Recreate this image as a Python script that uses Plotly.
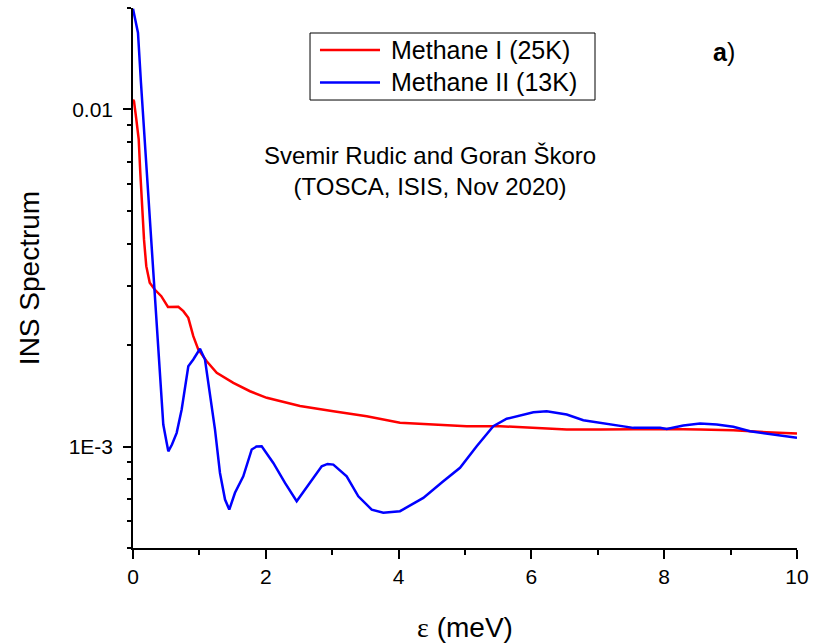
import plotly.graph_objects as go

# Methane I (25K) spectrum
energy_I = [0.0, 0.015, 0.050, 0.086, 0.110, 0.136, 0.166, 0.200, 0.252, 0.327, 0.426,
            0.527, 0.682, 0.758, 0.833, 0.908, 0.983, 1.110, 1.261, 1.511, 1.762, 2.014,
            2.515, 3.017, 3.520, 4.021, 4.523, 5.026, 5.527, 6.029, 6.532, 7.033, 7.535,
            8.038, 8.539, 9.041, 9.544, 10.0]
intensity_I = [0.01070, 0.01058, 0.00934, 0.00815, 0.00649, 0.00517, 0.00411, 0.003428,
               0.003061, 0.002923, 0.002793, 0.002595, 0.002598, 0.002521, 0.002409,
               0.002125, 0.001940, 0.001791, 0.001655, 0.001545, 0.001459, 0.001395,
               0.001319, 0.001273, 0.001230, 0.001176, 0.001162, 0.001149, 0.001149,
               0.001136, 0.001123, 0.001123, 0.001128, 0.001128, 0.001123, 0.001118,
               0.001103, 0.001093]

# Methane II (13K) spectrum
energy_II = [0.0, 0.075, 0.120, 0.176, 0.226, 0.276, 0.327, 0.381, 0.456, 0.508,
             0.532, 0.587, 0.658, 0.733, 0.809, 0.833, 0.908, 1.009, 1.084, 1.160, 1.235,
             1.310, 1.386, 1.450, 1.536, 1.661, 1.788, 1.860, 1.938, 2.113, 2.289, 2.465,
             2.666, 2.842, 2.930, 3.017, 3.218, 3.393, 3.595, 3.770, 4.021, 4.372, 4.673,
             4.925, 5.176, 5.426, 5.628, 6.029, 6.230, 6.532, 6.782, 7.184, 7.535, 7.937,
             8.038, 8.288, 8.539, 8.791, 9.041, 9.292, 9.544, 10.0]
intensity_II = [0.01989, 0.01689, 0.01200, 0.00815, 0.00579, 0.00411, 0.002793,
                0.001940, 0.001162, 0.001025, 0.000968, 0.001014, 0.001098, 0.001288,
                0.001635, 0.001731, 0.001812, 0.001950, 0.001812, 0.001443, 0.001123,
                0.000835, 0.000696, 0.000650, 0.000729, 0.000816, 0.000980, 0.001000,
                0.001002, 0.000894, 0.000780, 0.000688, 0.000780, 0.000874, 0.000888,
                0.000884, 0.000816, 0.000712, 0.000650, 0.000636, 0.000643, 0.000704,
                0.000789, 0.000865, 0.001002, 0.001149, 0.001209, 0.001264, 0.001273,
                0.001245, 0.001197, 0.001162, 0.001136, 0.001136, 0.001128, 0.001154,
                0.001170, 0.001162, 0.001144, 0.001110, 0.001093, 0.001061]

series_names = ["Methane I (25K)", "Methane II (13K)"]
series_colors = ["#ff0000", "#0000ff"]

y_tick_vals = [0.001, 0.01]
y_tick_text = ["1E-3", "0.01"]
y_minor_vals = [5e-4, 6e-4, 7e-4, 8e-4, 9e-4,
                2e-3, 3e-3, 4e-3, 5e-3, 6e-3, 7e-3, 8e-3, 9e-3, 2e-2]

FONT = "Liberation Sans, Arial, sans-serif"

fig = go.Figure()
fig.add_trace(go.Scatter(x=energy_I, y=intensity_I, mode="lines", name=series_names[0],
                         line=dict(color=series_colors[0], width=2.5)))
fig.add_trace(go.Scatter(x=energy_II, y=intensity_II, mode="lines", name=series_names[1],
                         line=dict(color=series_colors[1], width=2.5)))

# Boxed legend drawn with shapes and text
lg_x0, lg_x1, lg_y0, lg_y1 = 0.2666, 0.6958, 0.8296, 0.9537
fig.add_shape(type="rect", xref="paper", yref="paper", x0=lg_x0, x1=lg_x1, y0=lg_y0, y1=lg_y1,
              line=dict(color="black", width=1), fillcolor="white", layer="above")
row_y = [0.9222, 0.8622]
for name, color, ry in zip(series_names, series_colors, row_y):
    fig.add_shape(type="line", xref="paper", yref="paper", x0=0.2816, x1=0.372, y0=ry, y1=ry,
                  line=dict(color=color, width=2.5), layer="above")
    fig.add_annotation(xref="paper", yref="paper", x=0.3855, y=ry, text=name, showarrow=False,
                       xanchor="left", yanchor="middle", font=dict(family=FONT, size=25, color="black"))

fig.add_annotation(xref="paper", yref="paper", x=0.4473, y=0.698,
                   text="Svemir Rudic and Goran Škoro<br>(TOSCA, ISIS, Nov 2020)",
                   showarrow=False, xanchor="center", yanchor="middle", align="center",
                   font=dict(family=FONT, size=24, color="black"))
fig.add_annotation(xref="paper", yref="paper", x=0.890, y=0.9185, text="<b>a</b>)",
                   showarrow=False, xanchor="center", yanchor="middle",
                   font=dict(family=FONT, size=25, color="black"))

fig.update_layout(
    width=815, height=643,
    margin=dict(l=133, r=18, t=8, b=95, autoexpand=False),
    paper_bgcolor="white", plot_bgcolor="white",
    showlegend=False,
    font=dict(family=FONT, color="black"),
    xaxis=dict(
        range=[0, 10], tickmode="linear", tick0=0, dtick=2, automargin=False,
        ticks="outside", ticklen=9, tickwidth=1.5, tickcolor="black",
        minor=dict(tickmode="linear", tick0=0, dtick=1, ticks="outside", ticklen=5,
                   tickwidth=1.5, tickcolor="black"),
        showline=True, linecolor="black", linewidth=1.5, showgrid=False, zeroline=False,
        tickfont=dict(size=21), title=dict(
            text="<span style='font-family:Liberation Serif'>ε</span> (meV)",
            font=dict(size=28), standoff=30),
    ),
    yaxis=dict(
        type="log", range=[-3.301, -1.699], automargin=False,
        tickmode="array", tickvals=y_tick_vals, ticktext=y_tick_text,
        ticks="outside", ticklen=8, tickwidth=1.5, tickcolor="black",
        minor=dict(tickmode="array", tickvals=y_minor_vals, ticks="outside", ticklen=4,
                   tickwidth=1.5, tickcolor="black"),
        showline=True, linecolor="black", linewidth=1.5, showgrid=False, zeroline=False,
        tickfont=dict(size=21), ticklabelstandoff=6,
        title=dict(text="INS Spectrum", font=dict(size=28), standoff=21),
    ),
)

fig.write_html("out.html")
